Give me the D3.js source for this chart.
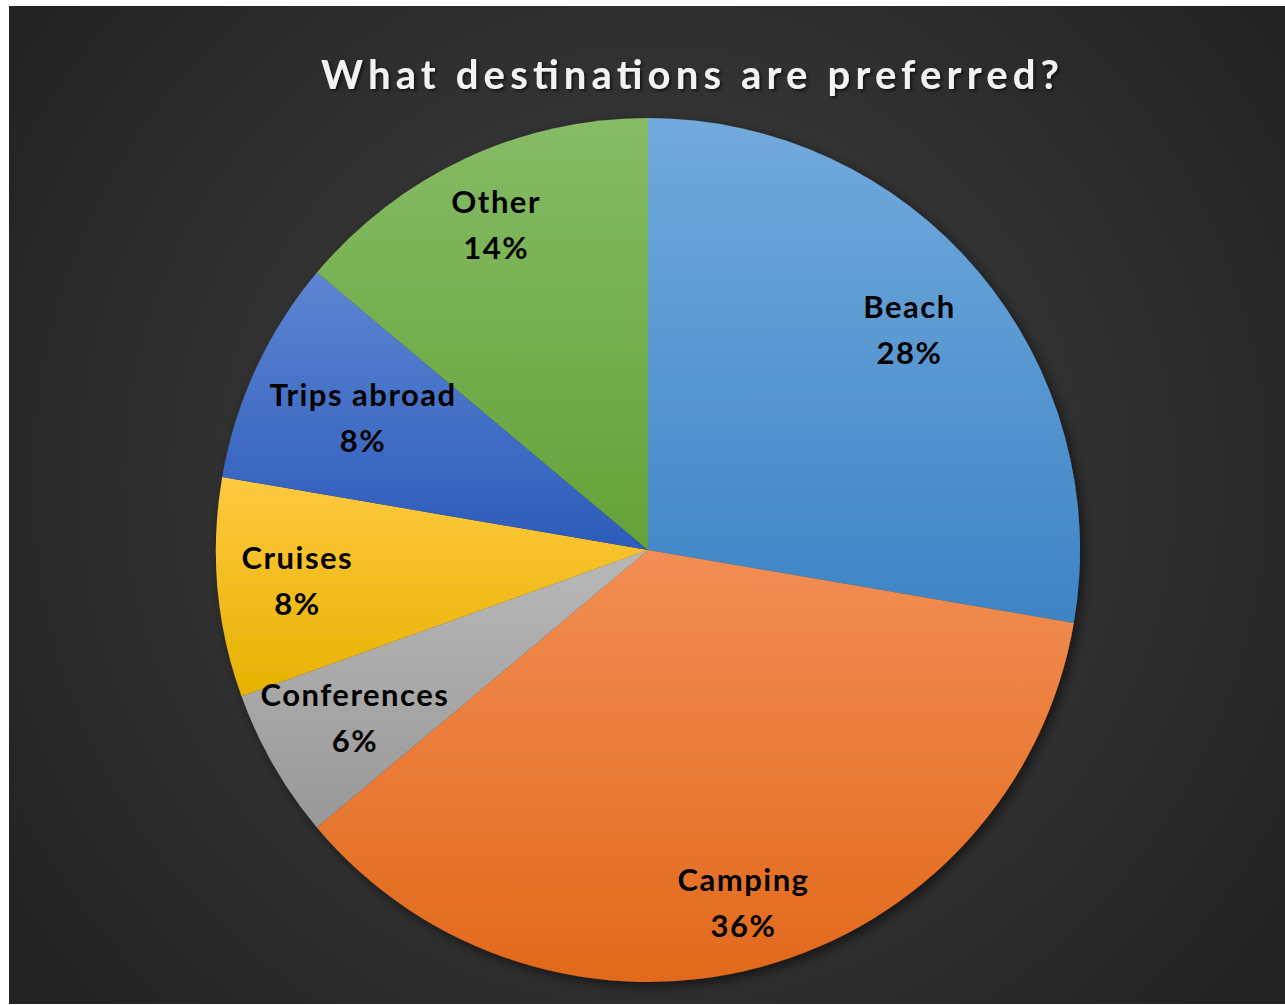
<!DOCTYPE html>
<html>
<head>
<meta charset="utf-8">
<script src="https://cdn.jsdelivr.net/npm/d3@7"></script>
<style>
  html, body { margin: 0; padding: 0; background: #fff; }
  svg { display: block; }
</style>
</head>
<body>
<div id="chart"></div>
<script>
// Pie chart: preferred destinations
const categories = ['Beach', 'Camping', 'Conferences', 'Cruises', 'Trips abroad', 'Other'];
// shares; labels show them rounded
const shares = [27.7, 36.2, 5.6, 8.2, 8.4, 13.9];
const topColors = ['#72aadd', '#f28e55', '#b8b8b8', '#ffc940', '#5d85d3', '#86bc66'];
const bottomColors = ['#3d84c5', '#e2691b', '#989898', '#e6b200', '#2c5bba', '#64a238'];
// label distance from center, per slice (Excel "best fit" placement)
const labelRadius = [342, 366, 338, 352, 314, 359];

const width = 1285, height = 1005;
const cx = 648, cy = 550, R = 432;

const svg = d3.select('#chart').append('svg')
    .attr('width', width)
    .attr('height', height);

const defs = svg.append('defs');

const bg = defs.append('radialGradient')
    .attr('id', 'bgGrad')
    .attr('gradientUnits', 'userSpaceOnUse')
    .attr('cx', 650).attr('cy', 480).attr('r', 760);
bg.append('stop').attr('offset', '0%').attr('stop-color', '#424242');
bg.append('stop').attr('offset', '100%').attr('stop-color', '#232323');

const shadow = defs.append('filter')
    .attr('id', 'pieShadow')
    .attr('x', '-10%').attr('y', '-10%').attr('width', '120%').attr('height', '120%');
shadow.append('feDropShadow')
    .attr('dx', 4).attr('dy', 4).attr('stdDeviation', 6)
    .attr('flood-color', '#000').attr('flood-opacity', 0.55);

const titleShadow = defs.append('filter').attr('id', 'titleShadow');
titleShadow.append('feDropShadow')
    .attr('dx', 2).attr('dy', 2).attr('stdDeviation', 1.5)
    .attr('flood-color', '#000').attr('flood-opacity', 0.6);

categories.forEach((c, i) => {
    const g = defs.append('linearGradient')
        .attr('id', `slice${i}`)
        .attr('x1', 0).attr('y1', 0).attr('x2', 0).attr('y2', 1);
    g.append('stop').attr('offset', '0%').attr('stop-color', topColors[i]);
    g.append('stop').attr('offset', '100%').attr('stop-color', bottomColors[i]);
});

// background panel
svg.append('rect')
    .attr('x', 9).attr('y', 6)
    .attr('width', width - 9).attr('height', 998)
    .attr('fill', 'url(#bgGrad)');

// title
svg.append('text')
    .attr('x', 690).attr('y', 89)
    .attr('text-anchor', 'middle')
    .attr('textLength', 738)
    .attr('lengthAdjust', 'spacing')
    .style('font-family', 'Lato, "Open Sans", sans-serif')
    .style('font-weight', 'bold')
    .style('font-size', '40px')
    .style('fill', '#f2f2f2')
    .attr('filter', 'url(#titleShadow)')
    .text('What destinations are preferred?');

const data = categories.map((c, i) => ({ name: c, value: shares[i], idx: i }));

const pie = d3.pie().sort(null).value(d => d.value);
const arc = d3.arc().innerRadius(0).outerRadius(R);
const arcs = pie(data);

const pieGroup = svg.append('g')
    .attr('transform', `translate(${cx},${cy})`);

pieGroup.append('g')
    .attr('filter', 'url(#pieShadow)')
    .selectAll('path')
    .data(arcs)
    .join('path')
    .attr('d', arc)
    .attr('fill', d => `url(#slice${d.data.idx})`);

const labels = pieGroup.append('g')
    .selectAll('text')
    .data(arcs)
    .join('text')
    .attr('transform', d => {
        const a = (d.startAngle + d.endAngle) / 2;
        const r = labelRadius[d.data.idx];
        return `translate(${r * Math.sin(a)},${-r * Math.cos(a)})`;
    })
    .attr('text-anchor', 'middle')
    .style('font-family', 'Lato, "Open Sans", sans-serif')
    .style('font-weight', 'bold')
    .style('font-size', '31px')
    .style('letter-spacing', '1.5px')
    .style('fill', '#000');

labels.append('tspan')
    .attr('x', 0).attr('y', -12)
    .text(d => d.data.name);
labels.append('tspan')
    .attr('x', 0).attr('y', 34)
    .text(d => `${Math.round(d.data.value)}%`);
</script>
</body>
</html>
